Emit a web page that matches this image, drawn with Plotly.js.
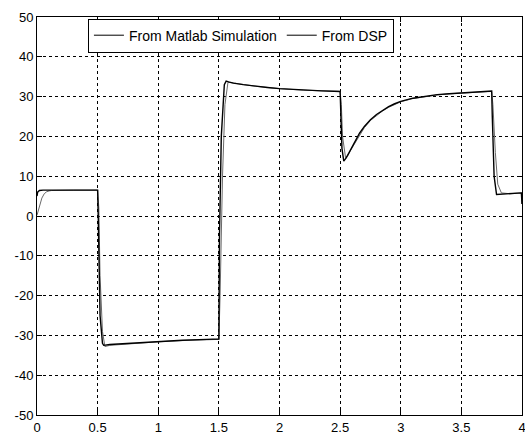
<!DOCTYPE html>
<html>
<head>
<meta charset="utf-8">
<script src="https://cdn.plot.ly/plotly-3.0.1.min.js"></script>
<style>html,body{margin:0;padding:0;background:#fff;}#chart{width:525px;height:434px;}</style>
</head>
<body>
<div id="chart"></div>
<script>
const seriesNames = ["From Matlab Simulation", "From DSP"];

const matlabTime = [0, 0.005, 0.02, 0.05, 0.2, 0.4, 0.5, 0.505, 0.52, 0.54, 0.55, 0.6, 0.8, 1.0, 1.2, 1.4, 1.5, 1.505, 1.52, 1.545, 1.56, 1.58, 1.62, 1.7, 1.8, 1.9, 2.0, 2.1, 2.2, 2.35, 2.5, 2.505, 2.515, 2.53, 2.55, 2.575, 2.6, 2.63, 2.66, 2.7, 2.75, 2.8, 2.85, 2.9, 2.95, 3.0, 3.1, 3.2, 3.3, 3.4, 3.5, 3.6, 3.75, 3.755, 3.77, 3.79, 3.85, 3.95, 3.995, 4.0];
const matlabValues = [5.0, 6.0, 6.4, 6.5, 6.5, 6.5, 6.5, 0, -25, -32, -32.5, -32.3, -31.9, -31.5, -31.2, -31.0, -30.9, -5, 20, 33, 33.9, 33.7, 33.4, 33.0, 32.6, 32.3, 32.0, 31.8, 31.6, 31.45, 31.3, 25, 17, 13.8, 14.6, 16.0, 17.4, 19.2, 20.8, 22.5, 24.2, 25.5, 26.6, 27.5, 28.2, 28.8, 29.6, 30.1, 30.5, 30.7, 30.9, 31.1, 31.4, 25, 10, 5.4, 5.5, 5.7, 5.8, 3.0];

const dspTime = [0, 0.02, 0.04, 0.06, 0.08, 0.1, 0.12, 0.3, 0.5, 0.51, 0.52, 0.54, 0.56, 0.6, 0.8, 1.0, 1.2, 1.4, 1.5, 1.51, 1.53, 1.55, 1.575, 1.6, 1.7, 1.8, 1.9, 2.0, 2.2, 2.4, 2.5, 2.51, 2.52, 2.545, 2.56, 2.58, 2.6, 2.63, 2.66, 2.7, 2.75, 2.8, 2.85, 2.9, 2.95, 3.0, 3.1, 3.2, 3.3, 3.4, 3.5, 3.6, 3.75, 3.76, 3.78, 3.8, 3.83, 3.9, 3.995, 4.0];
const dspValues = [0.2, 2.5, 4.5, 5.6, 6.1, 6.3, 6.4, 6.5, 6.5, 2, -15, -29, -32.8, -32.5, -32.0, -31.6, -31.3, -31.1, -31.0, -20, 10, 28, 33.6, 33.5, 33.0, 32.6, 32.3, 32.0, 31.6, 31.4, 31.3, 28, 20, 14.6, 15.0, 16.2, 17.2, 18.9, 20.5, 22.2, 24.0, 25.3, 26.4, 27.3, 28.1, 28.7, 29.5, 30.0, 30.4, 30.7, 30.9, 31.1, 31.3, 28, 16, 8, 5.8, 5.6, 5.8, 3.0];

const xTicks = [0, 0.5, 1, 1.5, 2, 2.5, 3, 3.5, 4];
const xTickLabels = ["0", "0.5", "1", "1.5", "2", "2.5", "3", "3.5", "4"];
const yTicks = [-50, -40, -30, -20, -10, 0, 10, 20, 30, 40, 50];
const yTickLabels = ["-50", "-40", "-30", "-20", "-10", "0", "10", "20", "30", "40", "50"];

const traces = [
  {x: dspTime, y: dspValues, type: "scatter", mode: "lines", name: seriesNames[1],
   line: {color: "#6a6a6a", width: 1}, showlegend: false},
  {x: matlabTime, y: matlabValues, type: "scatter", mode: "lines", name: seriesNames[0],
   line: {color: "#000", width: 1.4}, showlegend: false},
  {x: [null], y: [null], type: "scatter", mode: "lines", name: seriesNames[0],
   line: {color: "#000", width: 1}},
  {x: [null], y: [null], type: "scatter", mode: "lines", name: seriesNames[1],
   line: {color: "#000", width: 1}}
];

const axisCommon = {
  showline: true, linecolor: "#000", linewidth: 1, mirror: "ticks",
  ticks: "inside", ticklen: 5, tickcolor: "#000", tickwidth: 1,
  showgrid: true, gridcolor: "#000", gridwidth: 1, griddash: "3px,3px",
  zeroline: false, ticklabeloverflow: "allow",
  tickfont: {family: "Liberation Sans, Arial, sans-serif", size: 13, color: "#000"}
};

const layout = {
  width: 525, height: 434,
  margin: {l: 37, r: 3, t: 17, b: 19},
  paper_bgcolor: "#fff", plot_bgcolor: "#fff",
  font: {family: "Liberation Sans, Arial, sans-serif", size: 13, color: "#000"},
  xaxis: Object.assign({}, axisCommon, {range: [0, 4], tickvals: xTicks, ticktext: xTickLabels}),
  yaxis: Object.assign({}, axisCommon, {range: [-50, 50], tickvals: yTicks, ticktext: yTickLabels}),
  showlegend: true,
  legend: {orientation: "h", x: 0.105, y: 0.996, xanchor: "left", yanchor: "top",
           bgcolor: "#fff", bordercolor: "#000", borderwidth: 1,
           font: {family: "Liberation Sans, Arial, sans-serif", size: 14, color: "#000"},
           itemclick: false, itemdoubleclick: false}
};

Plotly.newPlot("chart", traces, layout, {displayModeBar: false, staticPlot: true});
</script>
</body>
</html>
